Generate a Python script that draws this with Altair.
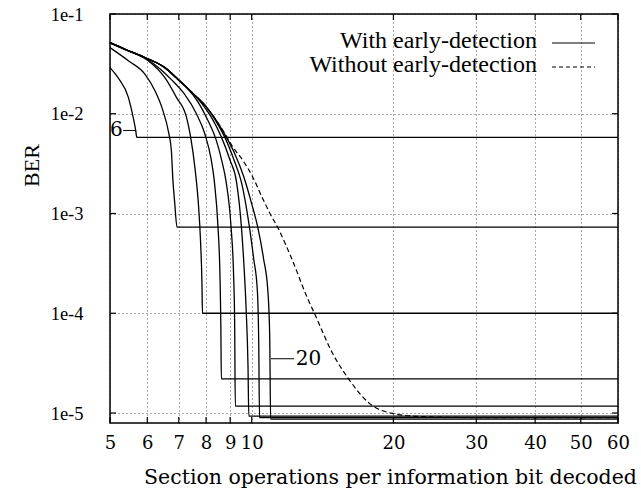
import altair as alt
import pandas as pd

# ---------------- data ----------------
x_ticks = [5, 6, 7, 8, 9, 10, 20, 30, 40, 50, 60]
y_ticks = [1e-5, 1e-4, 1e-3, 1e-2, 1e-1]

# With early-detection curves (max iterations 6 .. 20)
x6 = [5.0, 5.2, 5.47, 5.6, 5.67, 5.7, 60]
y6 = [2.9e-2, 2.3e-2, 1.46e-2, 9.2e-3, 6.8e-3, 5.8e-3, 5.8e-3]

x8 = [5.0, 5.47, 5.93, 6.23, 6.48, 6.66, 6.75, 6.8, 6.86, 6.94, 60]
y8 = [4.6e-2, 3.4e-2, 2.5e-2, 1.7e-2, 1.07e-2, 6.5e-3, 4.3e-3, 2.2e-3, 1.3e-3, 7.3e-4, 7.3e-4]

x10 = [5.0, 5.38, 6.03, 6.54, 6.92, 7.27, 7.42, 7.58, 7.7, 7.79, 7.84, 7.86, 60]
y10 = [5.1e-2, 4.4e-2, 3.4e-2, 2.3e-2, 1.46e-2, 9.2e-3, 5.8e-3, 2.8e-3, 1.3e-3, 5e-4, 2e-4, 1e-4, 1e-4]

x12 = [5.0, 5.38, 5.93, 6.4, 6.75, 7.2, 7.63, 7.95, 8.2, 8.33, 8.48, 8.56, 8.6, 8.62, 60]
y12 = [5.16e-2, 4.43e-2, 3.62e-2, 2.8e-2, 2.2e-2, 1.57e-2, 1.0e-2, 6.3e-3, 3.5e-3, 2.1e-3, 7.3e-4, 2.5e-4, 7e-5, 2.2e-5, 2.2e-5]

x14 = [5.0, 5.38, 5.93, 6.54, 6.97, 7.3, 7.7, 8.05, 8.4, 8.65, 8.82, 9.04, 9.15, 9.2, 9.23, 60]
y14 = [5.16e-2, 4.43e-2, 3.66e-2, 2.9e-2, 2.2e-2, 1.8e-2, 1.3e-2, 8.8e-3, 5.5e-3, 3.3e-3, 2.1e-3, 7.3e-4, 2.5e-4, 8e-5, 1.17e-5, 1.17e-5]

x16 = [5.0, 5.38, 5.93, 6.54, 6.97, 7.5, 7.85, 8.2, 8.6, 9.0, 9.28, 9.51, 9.65, 9.74, 9.82, 9.86, 60]
y16 = [5.16e-2, 4.43e-2, 3.66e-2, 2.9e-2, 2.22e-2, 1.6e-2, 1.25e-2, 9.3e-3, 6.0e-3, 3.4e-3, 2.1e-3, 7.3e-4, 2.5e-4, 1e-4, 3e-5, 9.3e-6, 9.3e-6]

x18 = [5.0, 5.38, 5.93, 6.54, 6.97, 7.5, 8.0, 8.4, 8.8, 9.2, 9.5, 9.89, 10.1, 10.28, 10.35, 10.39, 60]
y18 = [5.16e-2, 4.43e-2, 3.66e-2, 2.9e-2, 2.22e-2, 1.6e-2, 1.18e-2, 8.4e-3, 5.6e-3, 3.3e-3, 2.1e-3, 7.3e-4, 3.5e-4, 1.7e-4, 5e-5, 9.0e-6, 9.0e-6]

x20 = [5.0, 5.38, 5.93, 6.54, 6.97, 7.5, 8.0, 8.45, 8.8, 9.2, 9.6, 10.0, 10.3, 10.6, 10.82, 10.92, 10.97, 60]
y20 = [5.16e-2, 4.43e-2, 3.66e-2, 2.9e-2, 2.22e-2, 1.6e-2, 1.18e-2, 8.3e-3, 6.0e-3, 4.0e-3, 2.4e-3, 1.25e-3, 7.3e-4, 3.5e-4, 1.7e-4, 6e-5, 8.7e-6, 8.7e-6]

# Without early-detection
xd = [5.0, 5.38, 5.93, 6.54, 6.97, 7.5, 8.0, 8.45, 8.83, 9.13, 9.58, 10.06, 10.56, 10.9, 11.4,
      12.2, 13.15, 13.6, 14.86, 16.13, 17.78, 19.9, 23, 30, 60]
yd = [5.16e-2, 4.43e-2, 3.66e-2, 2.9e-2, 2.22e-2, 1.6e-2, 1.18e-2, 8.3e-3, 6.0e-3, 4.6e-3, 3.4e-3,
      2.3e-3, 1.4e-3, 1.03e-3, 7.0e-4, 3.4e-4, 1.4e-4, 9.9e-5, 3.95e-5, 2.14e-5, 1.25e-5, 9.9e-6,
      9.2e-6, 9.0e-6, 9.0e-6]

# curve annotations
ann_text = ["6", "20"]
ann_x = [5.32, 12.4]
ann_y = [6.8e-3, 3.5e-5]
lead_x1 = [5.33, 10.99]
lead_x2 = [5.67, 12.3]

legend_labels = ["With early-detection", "Without early-detection"]

# ---------------- tables ----------------
rows = []
for name, xs_, ys_ in [("6", x6, y6), ("8", x8, y8), ("10", x10, y10), ("12", x12, y12),
                       ("14", x14, y14), ("16", x16, y16), ("18", x18, y18), ("20", x20, y20)]:
    for i, (a, b) in enumerate(zip(xs_, ys_)):
        rows.append({"x": a, "y": b, "curve": name, "i": i})
solid_df = pd.DataFrame(rows)
dash_df = pd.DataFrame({"x": xd, "y": yd, "i": list(range(len(xd)))})
ann_df = pd.DataFrame({"t": ann_text, "x": ann_x, "y": ann_y, "x1": lead_x1, "x2": lead_x2})
xt_df = pd.DataFrame({"x": x_ticks})
yt_df = pd.DataFrame({"y": y_ticks})

W, H = 508, 409
xscale = alt.Scale(type="log", domain=[5, 60], nice=False)
yscale = alt.Scale(type="log", domain=[7.94e-6, 0.1], nice=False)

SERIF = "Liberation Serif"
CM = "DejaVu Serif"

x_axis = alt.Axis(values=x_ticks, format="d", title="Section operations per information bit decoded",
                  grid=True, ticks=False, domain=False, labelPadding=11, labelFont=CM, labelFontSize=18,
                  labelColor="black", titleFont=CM, titleFontSize=20.5, titleFontWeight="normal",
                  titleColor="black", titleX=280, titleY=54, titleAlign="center",
                  titleBaseline="middle", labelFlush=False)
y_axis = alt.Axis(values=y_ticks, labelExpr="'1e' + round(log(datum.value)/LN10)", title="BER",
                  grid=True, ticks=False, domain=False, labelPadding=27, labelFont=SERIF,
                  labelFontSize=18.5, labelColor="black", titleFont=SERIF, titleFontSize=22,
                  titleFontWeight="normal", titleColor="black", titleX=-79, titleY=151,
                  titleAngle=-90, titleAlign="center", titleBaseline="middle", labelFlush=False)


def X(field):
    return alt.X(field, scale=xscale, axis=x_axis)


def Y(field):
    return alt.Y(field, scale=yscale, axis=y_axis)


solid = alt.Chart(solid_df).mark_line(color="black", strokeWidth=1.3, interpolate="monotone").encode(
    x=X("x:Q"), y=Y("y:Q"), detail="curve:N", order="i:Q",
)

dashed = alt.Chart(dash_df).mark_line(color="black", strokeWidth=1.2, strokeDash=[5, 3],
                                      interpolate="monotone").encode(
    x=X("x:Q"), y=Y("y:Q"), order="i:Q",
)

tick_len = 6
xt_bottom = alt.Chart(xt_df).mark_rule(color="black", strokeWidth=1.2).encode(
    x=X("x:Q"), y=alt.value(H - tick_len), y2=alt.value(H))
xt_top = alt.Chart(xt_df).mark_rule(color="black", strokeWidth=1.2).encode(
    x=X("x:Q"), y=alt.value(0), y2=alt.value(tick_len))
yt_left = alt.Chart(yt_df).mark_rule(color="black", strokeWidth=1.2).encode(
    y=Y("y:Q"), x=alt.value(0), x2=alt.value(tick_len))
yt_right = alt.Chart(yt_df).mark_rule(color="black", strokeWidth=1.2).encode(
    y=Y("y:Q"), x=alt.value(W - tick_len), x2=alt.value(W))

ann_text_6 = alt.Chart(ann_df).transform_filter(alt.datum.t == "6").mark_text(
    font=CM, fontSize=20, color="black", baseline="middle", align="right").encode(
    x=X("x:Q"), y=Y("y:Q"), text="t:N")
ann_text_20 = alt.Chart(ann_df).transform_filter(alt.datum.t == "20").mark_text(
    font=CM, fontSize=20, color="black", baseline="middle", align="left").encode(
    x=X("x:Q"), y=Y("y:Q"), text="t:N")
ann_lead = alt.Chart(ann_df).mark_rule(color="black", strokeWidth=1).encode(
    x=X("x1:Q"), x2="x2:Q", y=Y("y:Q"))

leg_df = pd.DataFrame({"t": legend_labels})
leg1 = alt.Chart(leg_df).transform_filter(alt.datum.t == legend_labels[0]).mark_text(
    font=SERIF, fontSize=24, align="right", baseline="middle", color="black").encode(
    text="t:N", x=alt.value(427), y=alt.value(27))
leg2 = alt.Chart(leg_df).transform_filter(alt.datum.t == legend_labels[1]).mark_text(
    font=SERIF, fontSize=24, align="right", baseline="middle", color="black").encode(
    text="t:N", x=alt.value(427), y=alt.value(51))
leg_line1 = alt.Chart(leg_df).transform_filter(alt.datum.t == legend_labels[0]).mark_rule(
    color="black", strokeWidth=1.2).encode(x=alt.value(442), x2=alt.value(485), y=alt.value(29))
leg_line2 = alt.Chart(leg_df).transform_filter(alt.datum.t == legend_labels[1]).mark_rule(
    color="black", strokeWidth=1.2, strokeDash=[4, 3]).encode(x=alt.value(442), x2=alt.value(485), y=alt.value(53))

chart = alt.layer(
    solid, dashed, xt_bottom, xt_top, yt_left, yt_right,
    ann_lead, ann_text_6, ann_text_20, leg1, leg2, leg_line1, leg_line2
).properties(
    width=W, height=H,
    autosize=alt.AutoSizeParams(type="none"),
    padding={"left": 110, "top": 14, "right": 23, "bottom": 74},
    background="white",
).configure_view(
    stroke="black", strokeWidth=1.5
).configure_axis(
    gridDash=[1, 3], gridColor="#000000", gridOpacity=0.75, gridWidth=0.9
)

chart.save("out.html", embed_options={"renderer": "svg", "actions": False})
